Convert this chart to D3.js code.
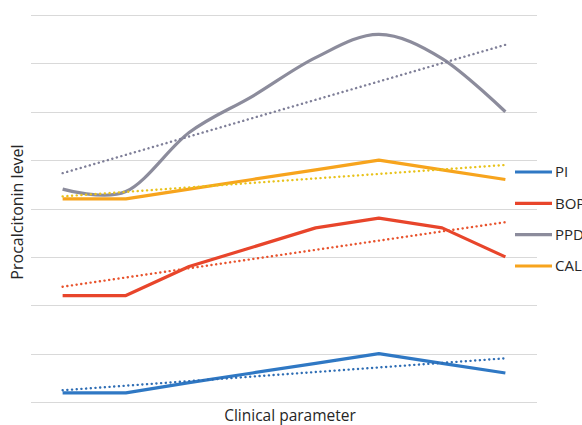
<!DOCTYPE html>
<html>
<head>
<meta charset="utf-8">
<script src="https://cdn.jsdelivr.net/npm/d3@7"></script>
<style>
  html, body { margin: 0; padding: 0; background: #fff; }
  svg { display: block; font-family: "Open Sans", sans-serif; }
</style>
</head>
<body>
<div id="chart"></div>
<script>
// values (one value per clinical step, no y tick labels shown)
const steps = [0, 1, 2, 3, 4, 5, 6, 7];
const seriesNames = ["PI", "BOP", "PPD", "CAL"];
const piValues = [0.19, 0.19, 0.4, 0.6, 0.8, 1.0, 0.8, 0.6];
const bopValues = [2.2, 2.2, 2.8, 3.2, 3.6, 3.8, 3.6, 3.0];
const ppdValues = [4.4, 4.35, 5.57, 6.32, 7.12, 7.6, 7.1, 6.0];
const calValues = [4.2, 4.2, 4.4, 4.6, 4.8, 5.0, 4.8, 4.6];
const gridTicks = [0, 1, 2, 3, 4, 5, 6, 7, 8];

const colors = { PI: "#2f78c4", BOP: "#e8452b", PPD: "#8c8c9c", CAL: "#f7a41d" };
const trendColors = { PI: "#2e6db4", BOP: "#e8532d", PPD: "#7f7f98", CAL: "#e8c21a" };

const width = 582;
const height = 425;

const svg = d3.select("#chart").append("svg")
  .attr("width", width)
  .attr("height", height);

const x = d3.scalePoint().domain(steps).range([31, 537]).padding(0.5);
const y = d3.scaleLinear().domain([0, 8]).range([402, 15]);

// gridlines
svg.append("g")
  .selectAll("line")
  .data(gridTicks)
  .join("line")
  .attr("x1", 31)
  .attr("x2", 537)
  .attr("y1", (d) => Math.round(y(d)) + 0.5)
  .attr("y2", (d) => Math.round(y(d)) + 0.5)
  .attr("stroke", "#d9d9d9")
  .attr("stroke-width", 1);

const series = [
  { name: "PI", values: piValues },
  { name: "BOP", values: bopValues },
  { name: "PPD", values: ppdValues, smooth: true },
  { name: "CAL", values: calValues }
];

// linear trend, least squares like the spreadsheet trendline
function trend(values) {
  const n = values.length;
  const mx = d3.mean(steps);
  const my = d3.mean(values);
  let num = 0, den = 0;
  steps.forEach((s, i) => {
    num += (s - mx) * (values[i] - my);
    den += (s - mx) * (s - mx);
  });
  const b = num / den;
  const a = my - b * mx;
  return [steps[0], steps[n - 1]].map((s) => [s, a + b * s]);
}

const trendLine = d3.line()
  .x((d) => x(d[0]))
  .y((d) => y(d[1]));

const g = svg.append("g");

series.forEach((s) => {
  const line = d3.line()
    .x((d, i) => x(steps[i]))
    .y((d) => y(d))
    .curve(s.smooth ? d3.curveCardinal.tension(0) : d3.curveLinear);

  g.append("path")
    .datum(s.values)
    .attr("d", line)
    .attr("fill", "none")
    .attr("stroke", colors[s.name])
    .attr("stroke-width", 3.2)
    .attr("stroke-linejoin", "round");

  g.append("path")
    .datum(trend(s.values))
    .attr("d", trendLine)
    .attr("fill", "none")
    .attr("stroke", trendColors[s.name])
    .attr("stroke-width", 2.4)
    .attr("stroke-linecap", "round")
    .attr("stroke-dasharray", "0.1,4.6");
});

// legend
const legend = svg.append("g");
const legendY = d3.scalePoint().domain(seriesNames).range([172, 266]);

legend.selectAll("line")
  .data(seriesNames)
  .join("line")
  .attr("x1", 515)
  .attr("x2", 552)
  .attr("y1", (d) => legendY(d))
  .attr("y2", (d) => legendY(d))
  .attr("stroke", (d) => colors[d])
  .attr("stroke-width", 3.2);

legend.selectAll("text")
  .data(seriesNames)
  .join("text")
  .attr("x", 555)
  .attr("y", (d) => legendY(d))
  .attr("dy", "0.36em")
  .attr("font-size", 15)
  .attr("fill", "#262626")
  .text((d) => d);

// axis titles
svg.append("text")
  .attr("x", 290)
  .attr("y", 421)
  .attr("text-anchor", "middle")
  .attr("font-size", 15.5)
  .attr("fill", "#262626")
  .text("Clinical parameter");

svg.append("text")
  .attr("transform", "translate(23,212) rotate(-90)")
  .attr("text-anchor", "middle")
  .attr("font-size", 16)
  .attr("fill", "#262626")
  .text("Procalcitonin level");
</script>
</body>
</html>
